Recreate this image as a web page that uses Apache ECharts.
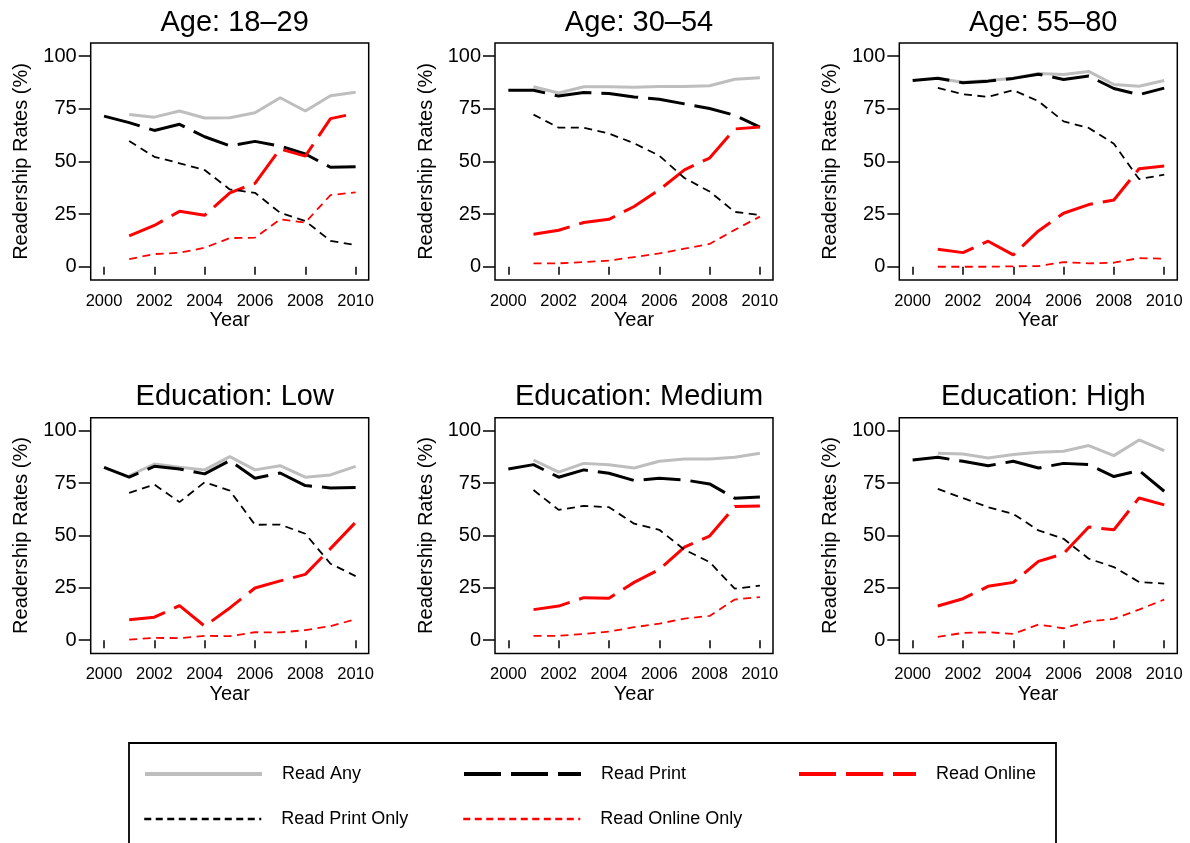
<!DOCTYPE html>
<html>
<head>
<meta charset="utf-8">
<title>Readership Rates</title>
<script src="https://cdn.jsdelivr.net/npm/echarts@6/dist/echarts.min.js"></script>
<style>
  html, body { margin: 0; padding: 0; background: #fff; }
  #chart { width: 1190px; height: 843px; }
</style>
</head>
<body>
<div id="chart"></div>
<script>
// data, one value per year 2000..2010
const years = [2000, 2001, 2002, 2003, 2004, 2005, 2006, 2007, 2008, 2009, 2010];
const xTicks = [2000, 2002, 2004, 2006, 2008, 2010];
const yTicks = [0, 25, 50, 75, 100];
const seriesNames = ['Read Any', 'Read Print', 'Read Online', 'Read Print Only', 'Read Online Only'];
const panelTitles = ['Age: 18\u201329', 'Age: 30\u201354', 'Age: 55\u201380',
                     'Education: Low', 'Education: Medium', 'Education: High'];

// Age 18-29
const any1829 = [null, 72.3, 71.0, 73.9, 70.6, 70.7, 73.1, 80.2, 73.9, 81.2, 82.8];
const print1829 = [71.5, 68.4, 64.7, 67.6, 61.7, 57.4, 59.5, 57.3, 53.5, 47.2, 47.5];
const online1829 = [null, 14.6, 19.6, 26.3, 24.4, 35.1, 39.6, 55.9, 52.5, 70.3, 72.8];
const printOnly1829 = [null, 59.7, 52.2, 49.1, 45.9, 36.7, 35.1, 25.6, 21.7, 12.3, 10.3];
const onlineOnly1829 = [null, 3.6, 6.0, 6.6, 9.0, 13.6, 13.8, 22.5, 21.0, 34.0, 35.3];

// Age 30-54
const any3054 = [null, 85.4, 82.5, 85.4, 85.4, 85.2, 85.6, 85.6, 85.9, 89.0, 89.7];
const print3054 = [83.8, 83.8, 81.0, 82.7, 82.2, 80.6, 79.5, 77.3, 75.1, 71.9, 66.3];
const online3054 = [null, 15.4, 17.3, 21.0, 22.5, 28.6, 36.5, 46.0, 51.6, 65.4, 66.3];
const printOnly3054 = [null, 72.2, 66.0, 66.0, 63.2, 58.6, 52.7, 42.1, 35.7, 26.0, 24.6];
const onlineOnly3054 = [null, 1.6, 1.6, 2.2, 2.9, 4.6, 6.3, 8.6, 10.8, 17.5, 23.8];

// Age 55-80
const any5580 = [null, 89.4, 87.6, 88.4, 89.5, 91.7, 91.3, 92.7, 86.5, 85.7, 88.4];
const print5580 = [88.4, 89.5, 87.3, 88.1, 89.4, 91.4, 88.9, 90.5, 84.6, 81.7, 84.8];
const online5580 = [null, 8.3, 6.7, 12.1, 5.6, 17.0, 25.4, 29.5, 31.7, 46.5, 47.8];
const printOnly5580 = [null, 84.9, 81.9, 80.6, 83.8, 78.6, 69.0, 65.9, 58.4, 41.6, 43.7];
const onlineOnly5580 = [null, 0.0, 0.0, 0.0, 0.2, 0.3, 2.2, 1.6, 1.9, 4.1, 3.8];

// Education low
const anyLow = [null, 78.5, 84.1, 82.5, 81.3, 87.6, 81.3, 83.3, 77.8, 78.9, 83.0];
const printLow = [82.5, 77.8, 83.0, 81.7, 79.4, 85.7, 77.3, 79.8, 73.8, 72.7, 72.9];
const onlineLow = [null, 9.8, 11.0, 16.5, 6.7, 15.4, 24.9, 28.3, 31.4, 43.7, 56.3];
const printOnlyLow = [null, 70.3, 74.3, 65.9, 75.4, 71.4, 55.1, 55.2, 50.8, 36.5, 30.6];
const onlineOnlyLow = [null, 0.3, 1.1, 1.0, 2.1, 1.9, 3.8, 3.7, 4.8, 6.7, 10.0];

// Education medium
const anyMed = [null, 86.0, 80.2, 84.4, 83.7, 82.2, 85.4, 86.5, 86.5, 87.3, 89.2];
const printMed = [81.7, 83.8, 77.8, 81.3, 79.7, 76.2, 77.3, 76.5, 74.6, 67.8, 68.3];
const onlineMed = [null, 14.6, 16.3, 20.3, 20.0, 27.6, 33.8, 44.4, 49.7, 63.8, 64.0];
const printOnlyMed = [null, 71.7, 62.2, 64.1, 63.5, 55.6, 52.7, 43.2, 37.3, 24.6, 26.0];
const onlineOnlyMed = [null, 2.1, 2.1, 3.0, 4.1, 6.2, 7.9, 10.3, 11.6, 19.4, 20.6];

// Education high
const anyHigh = [null, 89.2, 88.9, 87.0, 88.6, 89.7, 90.2, 92.9, 88.1, 95.6, 90.5];
const printHigh = [86.0, 87.3, 85.4, 83.3, 85.4, 82.2, 84.4, 83.8, 78.1, 81.0, 71.1];
const onlineHigh = [null, 16.3, 19.8, 25.7, 27.6, 37.6, 41.3, 54.0, 52.7, 67.9, 64.6];
const printOnlyHigh = [null, 72.2, 67.8, 63.5, 60.3, 52.4, 48.4, 38.9, 34.9, 27.8, 27.0];
const onlineOnlyHigh = [null, 1.6, 3.5, 3.8, 3.0, 7.5, 5.7, 9.0, 10.2, 14.6, 19.4];

const panelData = [
  [any1829, print1829, online1829, printOnly1829, onlineOnly1829],
  [any3054, print3054, online3054, printOnly3054, onlineOnly3054],
  [any5580, print5580, online5580, printOnly5580, onlineOnly5580],
  [anyLow, printLow, onlineLow, printOnlyLow, onlineOnlyLow],
  [anyMed, printMed, onlineMed, printOnlyMed, onlineOnlyMed],
  [anyHigh, printHigh, onlineHigh, printOnlyHigh, onlineOnlyHigh]
];

// styles per series
const lineStyles = [
  { color: '#bebebe', width: 3, type: 'solid' },
  { color: '#000000', width: 3, type: [37, 10] },
  { color: '#ff0000', width: 3, type: [37, 10] },
  { color: '#000000', width: 1.8, type: [8, 5.5] },
  { color: '#ff0000', width: 1.8, type: [8, 5.5] }
];
const legendDash = ['solid', [37, 10], [37, 10], [7, 4.5], [7, 4.5]];

const FONT = '"Liberation Sans", Arial, Helvetica, sans-serif';
const gridLefts = [90.7, 495, 899.3];
const gridTops = [43, 417.7];
const gridW = 278;
const gridHs = [237, 235.7];

const chart = echarts.init(document.getElementById('chart'));

let grids = [], xAxes = [], yAxes = [], titles = [], series = [];
panelTitles.forEach(function (t, p) {
  const col = p % 3, row = Math.floor(p / 3);
  grids.push({
    left: gridLefts[col], top: gridTops[row], width: gridW, height: gridHs[row],
    show: true, borderColor: '#000', borderWidth: 1.5, backgroundColor: '#fff'
  });
  titles.push({
    text: t, left: gridLefts[col] + gridW / 2, top: gridTops[row] - 40, textAlign: 'center',
    textStyle: { fontFamily: FONT, fontSize: 29, fontWeight: 'normal', color: '#000' }
  });
  xAxes.push({
    type: 'value', gridIndex: p, min: 1999.47, max: 2010.52,
    name: 'Year', nameLocation: 'middle', nameGap: 29,
    nameTextStyle: { fontFamily: FONT, fontSize: 20, color: '#000' },
    splitLine: { show: false }, axisLine: { show: false },
    axisTick: { show: true, length: 8, customValues: xTicks, lineStyle: { color: '#000', width: 1.5 } },
    axisLabel: {
      customValues: xTicks, margin: 13, fontFamily: FONT, fontSize: 16.5, color: '#000',
      formatter: function (v) { return String(v); }
    }
  });
  yAxes.push({
    type: 'value', gridIndex: p, min: -6.3, max: 106.2,
    name: 'Readership Rates (%)', nameLocation: 'middle', nameGap: 59,
    nameTextStyle: { fontFamily: FONT, fontSize: 20, color: '#000' },
    splitLine: { show: false }, axisLine: { show: false },
    axisTick: { show: true, length: 12, customValues: yTicks, lineStyle: { color: '#000', width: 1.5 } },
    axisLabel: { customValues: yTicks, margin: 14, fontFamily: FONT, fontSize: 20, color: '#000' }
  });
  panelData[p].forEach(function (vals, s) {
    const pts = [];
    vals.forEach(function (v, i) { if (v !== null) pts.push([years[i], v]); });
    series.push({
      name: seriesNames[s], type: 'line', xAxisIndex: p, yAxisIndex: p,
      data: pts, symbol: 'none', silent: true, z: 2 + s,
      itemStyle: { color: lineStyles[s].color },
      lineStyle: lineStyles[s]
    });
  });
});

// legend: one component per entry so the columns line up
const legendPos = [[143, 765], [462, 765], [797, 765], [143, 810], [462, 810]];
const legends = seriesNames.map(function (n, s) {
  return {
    data: [n], left: legendPos[s][0], top: legendPos[s][1], padding: 0,
    itemWidth: 117, itemHeight: 14, selectedMode: false,
    itemStyle: { opacity: 0 },
    lineStyle: { width: s < 3 ? 4 : 2.5, type: legendDash[s] },
    textStyle: { fontFamily: FONT, fontSize: 18, color: '#000', padding: [0, 0, 0, 15] }
  };
});

chart.setOption({
  animation: false,
  backgroundColor: '#fff',
  title: titles,
  grid: grids,
  xAxis: xAxes,
  yAxis: yAxes,
  legend: legends,
  graphic: [{
    type: 'rect', shape: { x: 129, y: 743, width: 927, height: 120 },
    style: { fill: 'none', stroke: '#000', lineWidth: 1.8 }, z: 0, silent: true
  }],
  series: series
});
</script>
</body>
</html>
